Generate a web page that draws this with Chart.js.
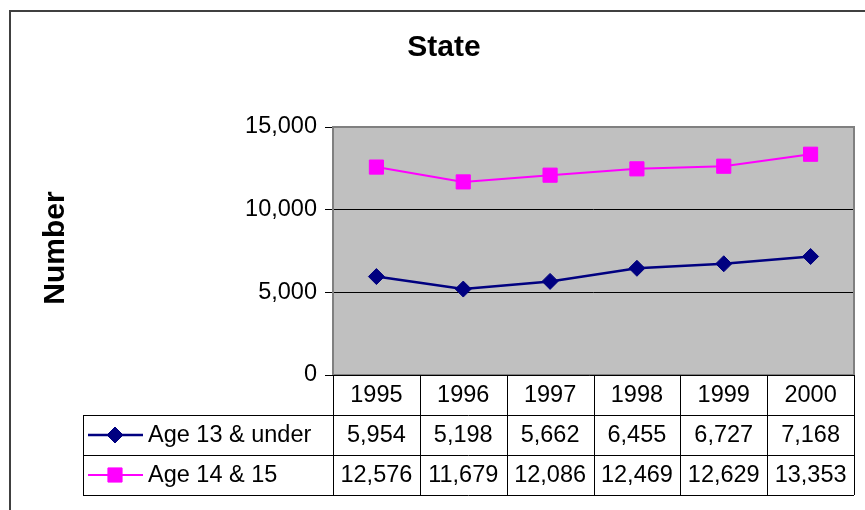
<!DOCTYPE html>
<html>
<head>
<meta charset="utf-8">
<script src="https://cdn.jsdelivr.net/npm/chart.js@4/dist/chart.umd.min.js"></script>
<style>
  body { margin: 0; background: #fff; }
  #wrap { width: 865px; height: 510px; position: relative; }
</style>
</head>
<body>
<div id="wrap"><canvas id="stateChart"></canvas></div>
<script>
const years = ['1995', '1996', '1997', '1998', '1999', '2000'];
const under13 = [5954, 5198, 5662, 6455, 6727, 7168];
const age1415 = [12576, 11679, 12086, 12469, 12629, 13353];
const seriesNames = ['Age 13 & under', 'Age 14 & 15'];
const yTicks = [0, 5000, 10000, 15000];

const FONT = '"Liberation Sans", Arial, sans-serif';
const TXT = 23.5;
const fmt = v => v.toLocaleString('en-US');

// frame, plot background, titles and the data table under the plot
const excelLook = {
    id: 'excelLook',
    beforeDraw(chart) {
        const { ctx, chartArea: a } = chart;
        ctx.save();
        ctx.fillStyle = '#c0c0c0';
        ctx.fillRect(a.left, a.top, a.right - a.left, a.bottom - a.top);
        ctx.restore();
    },
    beforeDatasetsDraw(chart) {
        const { ctx, chartArea: a } = chart;
        ctx.save();
        ctx.strokeStyle = '#808080';
        ctx.lineWidth = 2;
        ctx.strokeRect(a.left, a.top, a.right - a.left, a.bottom - a.top);
        ctx.strokeStyle = '#000';
        ctx.lineWidth = 1;
        ctx.beginPath();
        ctx.moveTo(a.left - 8, a.bottom + 0.5);
        ctx.lineTo(a.right, a.bottom + 0.5);
        ctx.stroke();
        ctx.restore();
    },
    afterDraw(chart) {
        const { ctx, chartArea: a } = chart;
        const xs = chart.scales.x;
        const W = chart.width;
        const H = chart.height;
        ctx.save();

        // outer frame
        ctx.strokeStyle = '#404040';
        ctx.lineWidth = 2;
        ctx.beginPath();
        ctx.moveTo(10, H);
        ctx.lineTo(10, 11);
        ctx.lineTo(W, 11);
        ctx.stroke();

        // titles
        ctx.fillStyle = '#000';
        ctx.font = 'bold 30px ' + FONT;
        ctx.textAlign = 'center';
        ctx.textBaseline = 'middle';
        ctx.fillText('State', 444, 48);
        ctx.save();
        ctx.translate(56, 248);
        ctx.rotate(-Math.PI / 2);
        ctx.fillText('Number', 0, 0);
        ctx.restore();

        // data table
        const colW = xs.getPixelForValue(1) - xs.getPixelForValue(0);
        const rowH = 40;
        const top = a.bottom;
        const legLeft = 83;
        ctx.strokeStyle = '#000';
        ctx.lineWidth = 1;
        ctx.beginPath();
        for (let r = 1; r <= 3; r++) {
            const y = Math.round(top + r * rowH) + 0.5;
            ctx.moveTo(legLeft, y);
            ctx.lineTo(a.right, y);
        }
        for (let i = 0; i <= years.length; i++) {
            const x = Math.round(xs.getPixelForValue(0) - colW / 2 + i * colW) + 0.5;
            ctx.moveTo(x, top);
            ctx.lineTo(x, top + 3 * rowH);
        }
        ctx.moveTo(legLeft + 0.5, top + rowH);
        ctx.lineTo(legLeft + 0.5, top + 3 * rowH);
        ctx.stroke();

        ctx.font = TXT + 'px ' + FONT;
        ctx.fillStyle = '#000';
        ctx.textAlign = 'center';
        const rows = [years, under13.map(fmt), age1415.map(fmt)];
        rows.forEach((vals, r) => {
            vals.forEach((v, i) => {
                ctx.fillText(v, xs.getPixelForValue(i), top + r * rowH + rowH / 2 + 1);
            });
        });

        // legend keys
        chart.data.datasets.forEach((ds, r) => {
            const y = top + (r + 1) * rowH + rowH / 2;
            ctx.strokeStyle = ds.borderColor;
            ctx.fillStyle = ds.backgroundColor;
            ctx.lineWidth = ds.borderWidth;
            ctx.beginPath();
            ctx.moveTo(88, y);
            ctx.lineTo(143, y);
            ctx.stroke();
            ctx.lineWidth = 1;
            Chart.helpers.drawPoint(ctx, {
                pointStyle: ds.pointStyle, radius: ds.pointRadius, borderWidth: 1, rotation: 0
            }, 115, y);
            ctx.fillStyle = '#000';
            ctx.textAlign = 'left';
            ctx.fillText(seriesNames[r], 148, y + 1);
        });

        ctx.restore();
    }
};

new Chart(document.getElementById('stateChart'), {
    type: 'line',
    data: {
        labels: years,
        datasets: [{
            label: seriesNames[0],
            data: under13,
            borderColor: '#000080',
            backgroundColor: '#000080',
            borderWidth: 2.5,
            pointStyle: 'rectRot',
            pointRadius: 8,
            pointBorderWidth: 1,
            tension: 0
        }, {
            label: seriesNames[1],
            data: age1415,
            borderColor: '#ff00ff',
            backgroundColor: '#ff00ff',
            borderWidth: 2,
            pointStyle: 'rect',
            pointRadius: 10,
            pointBorderWidth: 1,
            tension: 0
        }]
    },
    options: {
        responsive: true,
        maintainAspectRatio: false,
        animation: false,
        layout: { padding: { left: 0, top: 127, right: 9, bottom: 135 } },
        plugins: {
            legend: { display: false },
            title: { display: false },
            tooltip: { enabled: false }
        },
        scales: {
            x: {
                display: false,
                offset: true
            },
            y: {
                min: yTicks[0],
                max: yTicks[yTicks.length - 1],
                afterFit(scale) { scale.width = 333; },
                afterBuildTicks(scale) { scale.ticks = yTicks.map(v => ({ value: v })); },
                border: { display: false },
                grid: {
                    color: c => (c.tick && c.tick.value === 15000) ? 'rgba(0,0,0,0)' : '#000',
                    tickColor: '#000',
                    tickLength: 8,
                    lineWidth: 1
                },
                ticks: {
                    color: '#000',
                    padding: 8,
                    font: { family: FONT, size: TXT },
                    callback: v => fmt(v)
                }
            }
        }
    },
    plugins: [excelLook]
});
</script>
</body>
</html>
